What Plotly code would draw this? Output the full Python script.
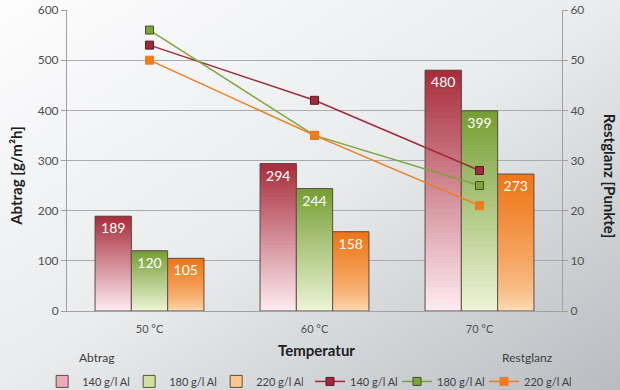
import base64
import plotly.graph_objects as go

categories = ["50 °C", "60 °C", "70 °C"]
series_names = ["140 g/l Al", "180 g/l Al", "220 g/l Al"]
abtrag_140 = [189, 294, 480]
abtrag_180 = [120, 244, 399]
abtrag_220 = [105, 158, 273]
restglanz_140 = [53, 42, 28]
restglanz_180 = [56, 35, 25]
restglanz_220 = [50, 35, 21]

abtrag = [abtrag_140, abtrag_180, abtrag_220]
restglanz = [restglanz_140, restglanz_180, restglanz_220]

# gradient colours: (top, bottom)
grad = [((168, 44, 58), (253, 236, 242)),
        ((118, 158, 52), (236, 244, 214)),
        ((238, 118, 24), (254, 226, 192))]
gamma = [1.0, 1.0, 0.6]
line_cols = ["#9e2a3c", "#7ea43c", "#f07c1c"]
marker_line = ["#5a1a22", "#3e5220", "#f07c1c"]
legend_mid = ["#eeaab8", "#cfe0a0", "#fbc68e"]

N = 40
fig = go.Figure()

for s in range(3):
    vals = abtrag[s]
    top, bot = grad[s]
    for k in range(N):
        t = ((k + 0.5) / N) ** gamma[s]
        c = tuple(int(round(bot[i] + (top[i] - bot[i]) * t)) for i in range(3))
        frac = min(3, N - k) / N
        fig.add_trace(go.Bar(
            x=categories, y=[v * frac for v in vals],
            base=[v * k / N for v in vals],
            offsetgroup=str(s), marker=dict(color="rgb(%d,%d,%d)" % c, line=dict(width=0)),
            showlegend=False, hoverinfo="skip"))
    fig.add_trace(go.Bar(
        x=categories, y=vals, offsetgroup=str(s),
        marker=dict(color="rgba(0,0,0,0)", line=dict(color="#5e4c46", width=1)),
        text=[str(v) for v in vals], textposition="inside", insidetextanchor="end",
        textfont=dict(color="white", size=14, family="Lato"),
        showlegend=False, cliponaxis=False))

# legend proxies for bars
for s in range(3):
    fig.add_trace(go.Bar(x=[None], y=[None], name=series_names[s],
                         marker=dict(color=legend_mid[s], line=dict(color="#5e4c46", width=1)),
                         legend="legend"))

for s in range(3):
    fig.add_trace(go.Scatter(
        x=categories, y=restglanz[s], yaxis="y2", mode="lines+markers",
        name=series_names[s], legend="legend2",
        line=dict(color=line_cols[s], width=1.5),
        marker=dict(symbol="square", size=8, color=line_cols[s],
                    line=dict(color=marker_line[s], width=1))))

svg = ('<svg xmlns="http://www.w3.org/2000/svg" width="620" height="390" '
       'viewBox="0 0 620 390" preserveAspectRatio="none">'
       '<defs><linearGradient id="g" x1="0" y1="0" x2="1" y2="1">'
       '<stop offset="0" stop-color="#fdfdfe"/>'
       '<stop offset="0.5" stop-color="#e9ebed"/>'
       '<stop offset="1" stop-color="#b8bcc0"/>'
       '</linearGradient></defs><rect width="620" height="390" fill="url(#g)"/></svg>')
bg_src = "data:image/svg+xml;base64," + base64.b64encode(svg.encode()).decode()

legend_common = dict(orientation="h", xref="container", yref="container", y=0.022,
                     xanchor="left", yanchor="middle", font=dict(size=11, color="#404040"),
                     bgcolor="rgba(0,0,0,0)", entrywidth=42, entrywidthmode="pixels",
                     tracegroupgap=0, traceorder="normal")

fig.update_layout(
    width=620, height=390,
    margin=dict(l=67, r=58, t=10, b=79, autoexpand=False),
    paper_bgcolor="#e6e8ea", plot_bgcolor="rgba(0,0,0,0)",
    images=[dict(source=bg_src, xref="paper", yref="paper",
                 x=-67 / 495, y=1 + 10 / 301, sizex=620 / 495, sizey=390 / 301,
                 xanchor="left", yanchor="top", sizing="stretch", layer="below")],
    barmode="group", bargap=0.34, bargroupgap=0,
    font=dict(family="Lato", color="#505050", size=12),
    xaxis=dict(showline=True, linecolor="#a0a0a0", ticks="", tickfont=dict(size=11),
               showgrid=False, automargin=False, ticklabelstandoff=8),
    yaxis=dict(range=[0, 600], dtick=100, showgrid=True, gridcolor="#a9abad", gridwidth=1,
               showline=True, linecolor="#a0a0a0", ticks="outside", ticklen=5, tickcolor="#a0a0a0",
               tickfont=dict(size=12), automargin=False, zeroline=False),
    yaxis2=dict(range=[0, 60], dtick=10, overlaying="y", side="right", showgrid=False,
                showline=True, linecolor="#a0a0a0", ticks="outside", ticklen=5, tickcolor="#a0a0a0",
                tickfont=dict(size=12), zeroline=False, automargin=False),
    legend=dict(x=0.068, **legend_common),
    legend2=dict(x=0.5, **legend_common),
    annotations=[
        dict(text="<b>Temperatur</b>", x=0.505, y=-0.1296, xref="paper", yref="paper",
             xanchor="center", yanchor="middle",
             showarrow=False, font=dict(size=15, color="#202020")),
        dict(text="Abtrag", x=0.0606, y=-0.156, xref="paper", yref="paper",
             xanchor="center", yanchor="middle",
             showarrow=False, font=dict(size=12, color="#404040")),
        dict(text="Restglanz", x=0.931, y=-0.156, xref="paper", yref="paper",
             xanchor="center", yanchor="middle",
             showarrow=False, font=dict(size=12, color="#404040")),
        dict(text="<b>Abtrag [g/m²h]</b>", x=-0.103, y=0.449, xref="paper", yref="paper",
             xanchor="center", yanchor="middle",
             textangle=-90, showarrow=False, font=dict(size=15, color="#202020")),
        dict(text="<b>Restglanz [Punkte]</b>", x=1.097, y=0.449, xref="paper", yref="paper",
             xanchor="center", yanchor="middle",
             textangle=90, showarrow=False, font=dict(size=15, color="#202020")),
    ],
)

fig.write_html("out.html", config={"displayModeBar": False},
               post_script="document.body.style.margin='0px';")
